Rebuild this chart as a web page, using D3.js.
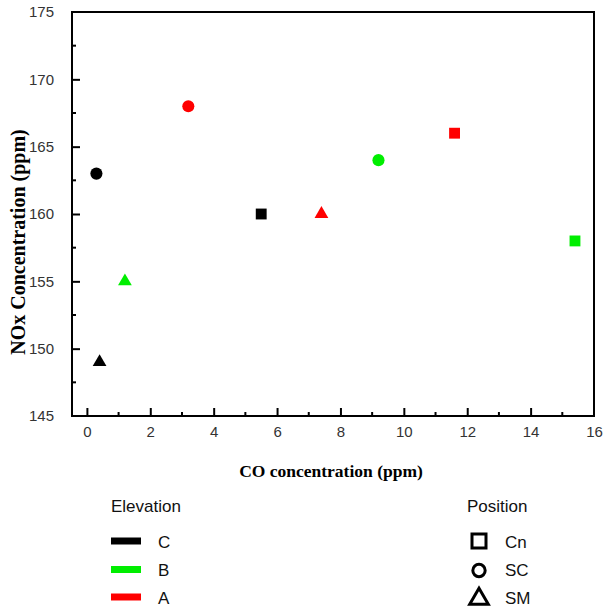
<!DOCTYPE html>
<html><head><meta charset="utf-8">
<script src="https://cdn.jsdelivr.net/npm/d3@7"></script>
<style>body{margin:0;background:#fff}</style>
</head><body>
<svg id="chart" width="605" height="612"></svg>
<script>
const elevations = ["C","B","A"];
const elevationColors = ["#000000","#00ee00","#ff0000"];
const positions = ["Cn","SC","SM"];
// points: [CO, NOx, elevation, position]
const coValues  = [5.5, 0.3, 0.4, 15.4, 9.2, 1.2, 11.6, 3.2, 7.4];
const noxValues = [160, 163, 149, 158, 164, 155, 166, 168, 160];
const pointElev = ["C","C","C","B","B","B","A","A","A"];
const pointPos  = ["Cn","SC","SM","Cn","SC","SM","Cn","SC","SM"];
const xTicks = [0,2,4,6,8,10,12,14,16];
const yTicks = [145,150,155,160,165,170,175];

const svg = d3.select("#chart");
const L=72, R=594, T=12, B=416;
const x = d3.scaleLinear().domain([-0.47,16]).range([L,R]);
const y = d3.scaleLinear().domain([145,175]).range([B,T]);
const color = d3.scaleOrdinal().domain(elevations).range(elevationColors);
const shape = d3.scaleOrdinal().domain(positions).range([d3.symbolSquare,d3.symbolCircle,d3.symbolTriangle]);
const sizes = {Cn:118, SC:115, SM:82};

// frame
svg.append("rect").attr("x",L).attr("y",T).attr("width",R-L).attr("height",B-T)
  .attr("fill","none").attr("stroke","#000").attr("stroke-width",2);

// bottom axis (inward ticks)
const xAxis = svg.append("g").attr("transform",`translate(0,${B})`)
  .call(d3.axisBottom(x).tickValues(xTicks).tickSize(-8).tickPadding(10).tickFormat(d3.format("d")));
xAxis.select(".domain").remove();
xAxis.selectAll(".tick line").attr("stroke","#000").attr("stroke-width",2);
xAxis.selectAll("text").attr("font-family","Liberation Sans, Arial, sans-serif").attr("font-size",15).attr("fill","#333");
xAxis.selectAll(".tick").filter(d=>d===16).select("line").remove();
const xMinor = d3.range(1,16,2);
svg.append("g").selectAll("line").data(xMinor).join("line")
  .attr("x1",d=>x(d)).attr("x2",d=>x(d)).attr("y1",B).attr("y2",B-4)
  .attr("stroke","#000").attr("stroke-width",2);

// left axis
const yAxis = svg.append("g").attr("transform",`translate(${L},0)`)
  .call(d3.axisLeft(y).tickValues(yTicks).tickSize(-8).tickPadding(18).tickFormat(d3.format("d")));
yAxis.select(".domain").remove();
yAxis.selectAll(".tick line").attr("stroke","#000").attr("stroke-width",2);
yAxis.selectAll(".tick").filter(d=>d===145||d===175).select("line").remove();
yAxis.selectAll("text").attr("font-family","Liberation Sans, Arial, sans-serif").attr("font-size",15).attr("fill","#333");
const yMinor = d3.range(147.5,175,5);
svg.append("g").selectAll("line").data(yMinor).join("line")
  .attr("x1",L).attr("x2",L+4).attr("y1",d=>y(d)).attr("y2",d=>y(d))
  .attr("stroke","#000").attr("stroke-width",2);

// titles
svg.append("text").attr("x",331).attr("y",477).attr("text-anchor","middle")
  .attr("font-family","Liberation Serif, Times New Roman, serif").attr("font-weight","bold").attr("font-size",17.5)
  .text("CO concentration (ppm)");
svg.append("text").attr("transform","translate(25,242) rotate(-90)").attr("text-anchor","middle")
  .attr("font-family","Liberation Serif, Times New Roman, serif").attr("font-weight","bold").attr("font-size",20)
  .text("NOx Concentration (ppm)");

// points
const pts = coValues.map((c,i)=>({x:c,y:noxValues[i],e:pointElev[i],p:pointPos[i]}));
svg.append("g").selectAll("path").data(pts).join("path")
  .attr("transform",d=>`translate(${x(d.x)},${y(d.y)})`)
  .attr("d",d=>d3.symbol().type(shape(d.p)).size(sizes[d.p])())
  .attr("fill",d=>color(d.e));

// legend
const lf = "Liberation Sans, Arial, sans-serif";
const rowY = [541, 569.5, 597];
svg.append("text").attr("x",111).attr("y",512).attr("font-family",lf).attr("font-size",17).attr("fill","#111").text("Elevation");
const eg = svg.append("g").selectAll("g").data(elevations).join("g")
  .attr("transform",(d,i)=>`translate(0,${rowY[i]})`);
eg.append("line").attr("x1",111).attr("x2",141).attr("y1",0).attr("y2",0)
  .attr("stroke",d=>color(d)).attr("stroke-width",7);
eg.append("text").attr("x",158).attr("y",6.5).attr("font-family",lf).attr("font-size",17).attr("fill","#111").text(d=>d);

svg.append("text").attr("x",467).attr("y",512).attr("font-family",lf).attr("font-size",17).attr("fill","#111").text("Position");
const pg = svg.append("g").selectAll("g").data(positions).join("g")
  .attr("transform",(d,i)=>`translate(0,${rowY[i]})`);
pg.append("path").attr("transform",d=>`translate(479,${d==="SM"?2:(d==="SC"?1:0)})`)
  .attr("d",d=>d3.symbol().type(shape(d)).size(d==="SM"?150:d==="SC"?120:196)())
  .attr("fill","none").attr("stroke","#000").attr("stroke-width",3);
pg.append("text").attr("x",505).attr("y",6.5).attr("font-family",lf).attr("font-size",17).attr("fill","#111").text(d=>d);
</script>
</body></html>
